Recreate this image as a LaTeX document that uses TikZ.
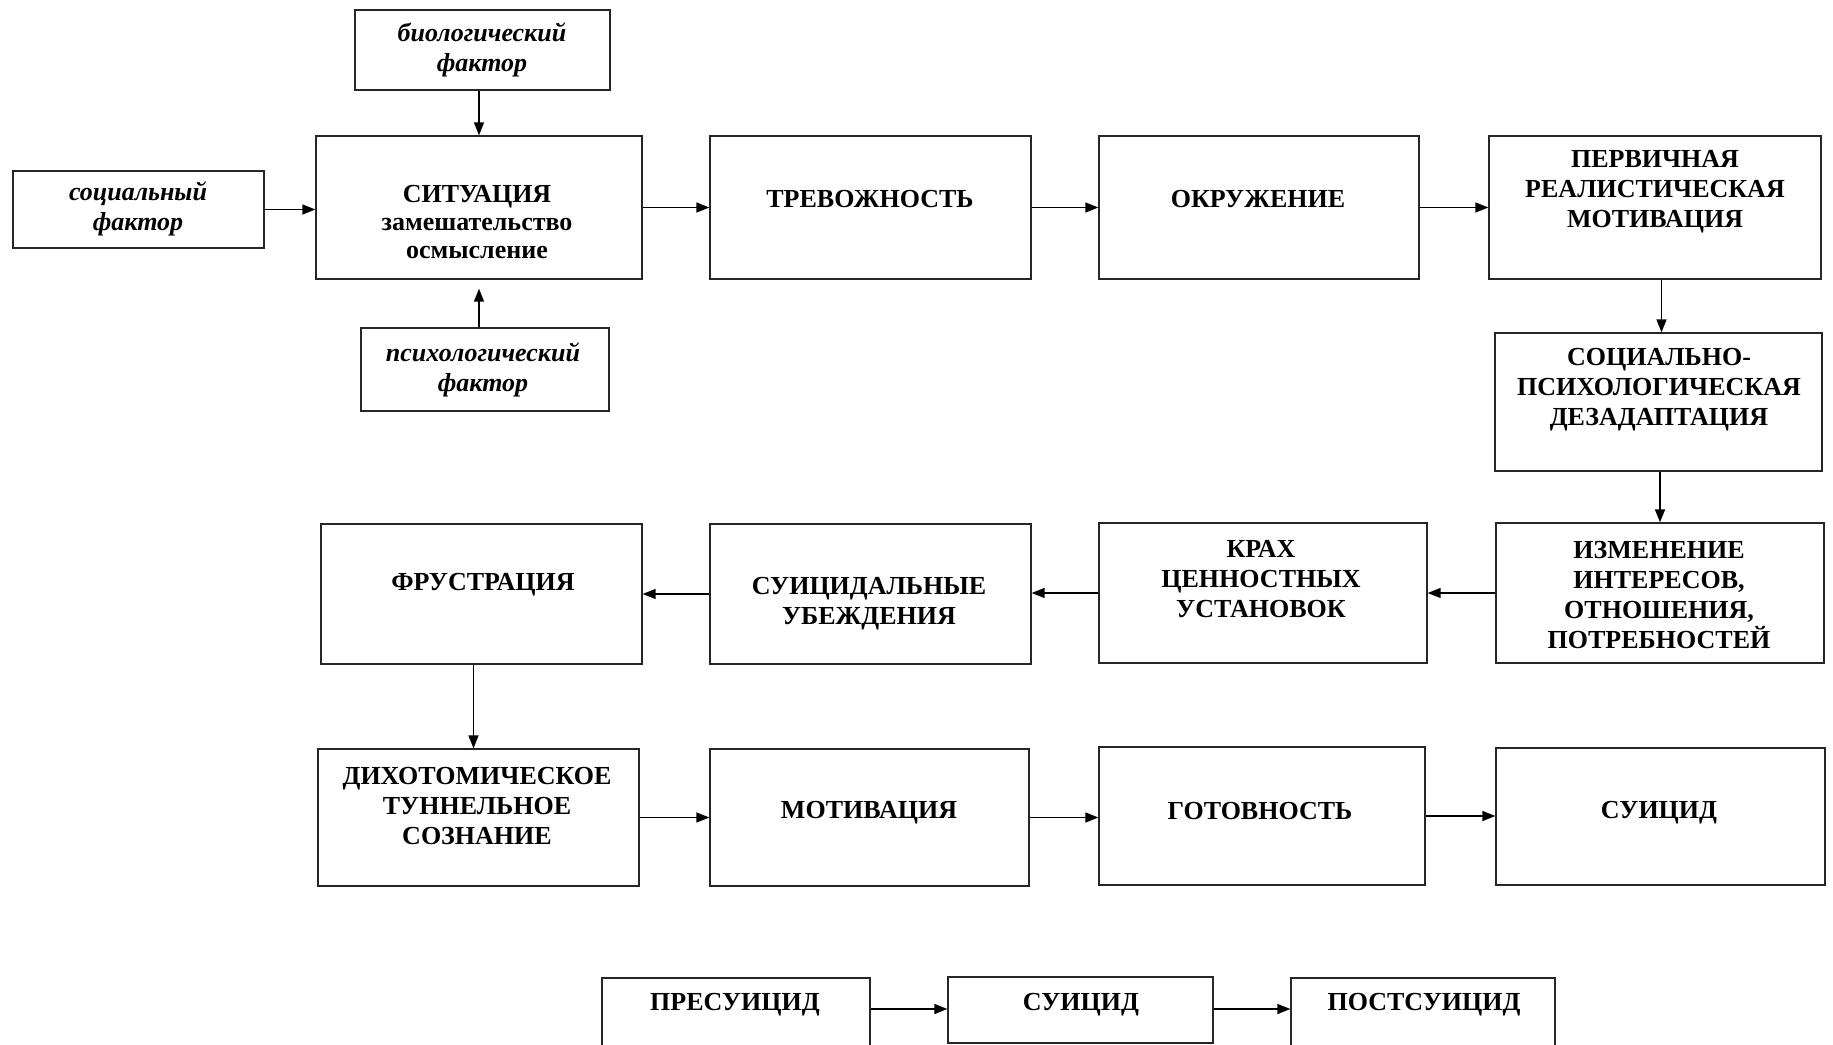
\documentclass[tikz,border=0pt]{standalone}
\usepackage{fontspec}
\setmainfont{Liberation Serif}
\usetikzlibrary{fit,arrows.meta}
\tikzset{
  box/.style={draw=black!85, line width=1.3pt, inner sep=0pt, rectangle},
  txt/.style={font=\fontsize{26}{30}\selectfont\bfseries, align=center, inner sep=0pt, yshift=-3pt},
  itxt/.style={font=\fontsize{26}{30}\selectfont\bfseries\itshape, align=center, inner sep=0pt, yshift=-2pt},
  arr/.style={line width=1.4pt, -{Triangle[length=13pt,width=10pt]}}
}
\begin{document}
\begin{tikzpicture}[x=1pt,y=-1pt]
\useasboundingbox (0,0) rectangle (1833,1044);
\clip (0,0) rectangle (1833,1044);
% boxes
\node[box, fit={(355,10) (610,90)}] (bio) {};
\node[box, fit={(13,171) (264,248)}] (soc) {};
\node[box, fit={(316,136) (642,279)}] (sit) {};
\node[box, fit={(361,328) (609,411)}] (psy) {};
\node[box, fit={(710,136) (1031,279)}] (trev) {};
\node[box, fit={(1099,136) (1419,279)}] (okr) {};
\node[box, fit={(1489,136) (1821,279)}] (perv) {};
\node[box, fit={(1495,333) (1822,471)}] (sps) {};
\node[box, fit={(1496,523) (1824,663)}] (izm) {};
\node[box, fit={(1099,523) (1427,663)}] (krah) {};
\node[box, fit={(710,524) (1031,664)}] (sub) {};
\node[box, fit={(321,524) (642,664)}] (frus) {};
\node[box, fit={(318,749) (639,886)}] (dich) {};
\node[box, fit={(710,749) (1029,886)}] (mot) {};
\node[box, fit={(1099,747) (1425,885)}] (got) {};
\node[box, fit={(1496,748) (1825,885)}] (sui) {};
\node[box, fit={(602,978) (870,1060)}] (pre) {};
\node[box, fit={(948,977) (1213,1043)}] (sui2) {};
\node[box, fit={(1291,978) (1555,1060)}] (post) {};
\coordinate (brow) at (0,1009);
% texts
\node[itxt] (bioT) at (482,48) {биологический\\фактор};
\node[itxt] (socT) at (138,207) {социальный\\фактор};
\node[txt, font=\fontsize{26}{28}\selectfont\bfseries] (sitT) at (477,219) {СИТУАЦИЯ\\замешательство\\осмысление};
\node[itxt] (psyT) at (483,368) {психологический\\фактор};
\node[txt] (trevT) at (870,196) {ТРЕВОЖНОСТЬ};
\node[txt] (okrT) at (1258,196) {ОКРУЖЕНИЕ};
\node[txt] (pervT) at (1655,189) {ПЕРВИЧНАЯ\\РЕАЛИСТИЧЕСКАЯ\\МОТИВАЦИЯ};
\node[txt] (spsT) at (1659,387) {СОЦИАЛЬНО-\\ПСИХОЛОГИЧЕСКАЯ\\ДЕЗАДАПТАЦИЯ};
\node[txt] (izmT) at (1659,592) {ИЗМЕНЕНИЕ\\ИНТЕРЕСОВ,\\ОТНОШЕНИЯ,\\ПОТРЕБНОСТЕЙ};
\node[txt] (krahT) at (1261,576) {КРАХ\\ЦЕННОСТНЫХ\\УСТАНОВОК};
\node[txt] (subT) at (869,601) {СУИЦИДАЛЬНЫЕ\\УБЕЖДЕНИЯ};
\node[txt] (frusT) at (483,582) {ФРУСТРАЦИЯ};
\node[txt] (dichT) at (477,803) {ДИХОТОМИЧЕСКОЕ\\ТУННЕЛЬНОЕ\\СОЗНАНИЕ};
\node[txt] (motT) at (869,810) {МОТИВАЦИЯ};
\node[txt] (gotT) at (1260,808) {ГОТОВНОСТЬ};
\node[txt] (suiT) at (1659,810) {СУИЦИД};
\node[txt] (preT) at (735,1002) {ПРЕСУИЦИД};
\node[txt] (sui2T) at (1081,1002) {СУИЦИД};
\node[txt] (postT) at (1424,1002) {ПОСТСУИЦИД};
% arrows
\draw[arr] (bio.south -| sit.north) -- (sit.north);
\draw[arr] (psy.north -| sit.south) -- ([yshift=-9pt]sit.south);
\draw[arr] (soc.east) -- (soc.east -| sit.west);
\draw[arr] (sit.east) -- (trev.west);
\draw[arr] (trev.east) -- (okr.west);
\draw[arr] (okr.east) -- (perv.west);
\draw[arr] ([xshift=3pt]perv.south -| sps.north) -- ([xshift=3pt]sps.north);
\draw[arr] (sps.south -| izm.north) -- (izm.north);
\draw[arr] (izm.west) -- (izm.west -| krah.east);
\draw[arr] (krah.west) -- (krah.west -| sub.east);
\draw[arr] (sub.west) -- (frus.east);
\draw[arr] ([xshift=-5pt]frus.south -| dich.north) -- ([xshift=-5pt]dich.north);
\draw[arr] (dich.east) -- (dich.east -| mot.west);
\draw[arr] (mot.east) -- (mot.east -| got.west);
\draw[arr] (got.east) -- (got.east -| sui.west);
\draw[arr] (pre.east |- brow) -- (sui2.west |- brow);
\draw[arr] (sui2.east |- brow) -- (post.west |- brow);
\end{tikzpicture}
\end{document}
